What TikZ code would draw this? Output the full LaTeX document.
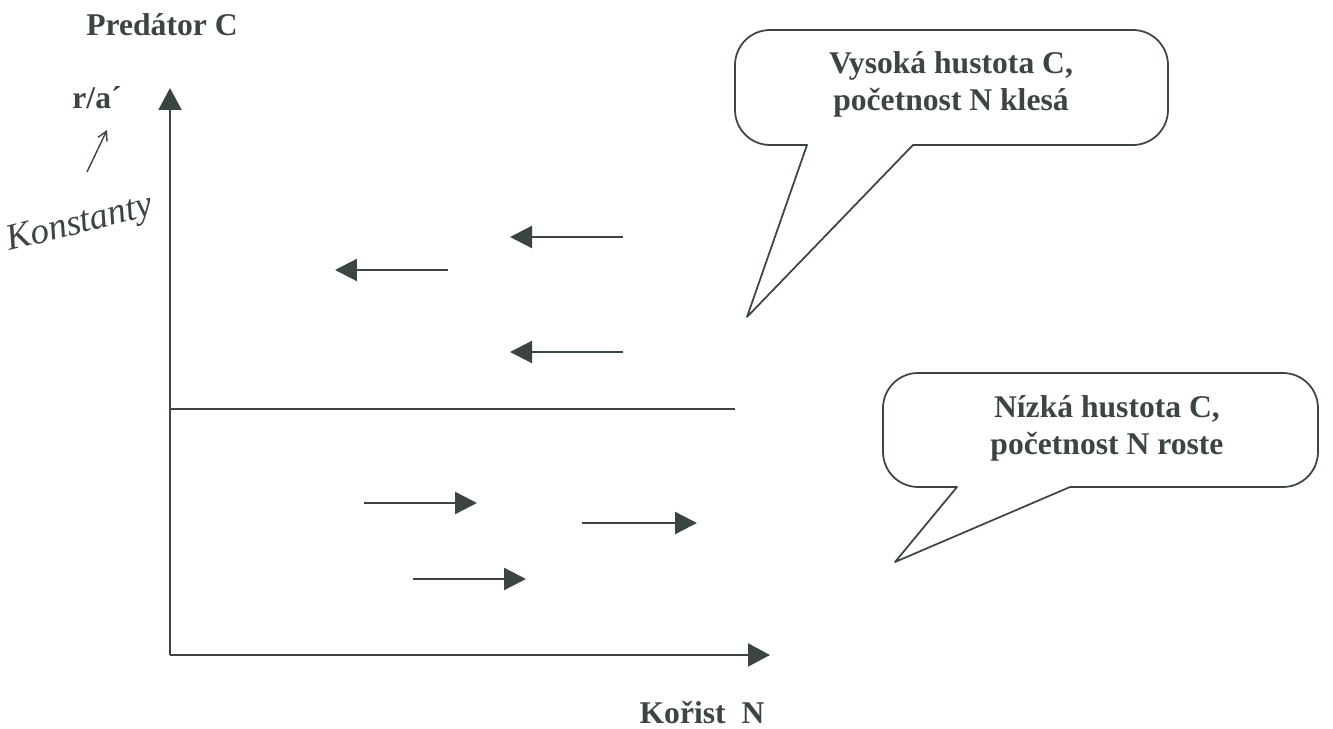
\documentclass[tikz,border=0pt]{standalone}
\usepackage{fontspec}
\setmainfont{Liberation Serif}
\usetikzlibrary{arrows.meta}
\definecolor{ink}{HTML}{3B4642}

\begin{document}
\begin{tikzpicture}[
    x=0.02cm, y=-0.02cm,
    % Styles for axes, flow arrows, callouts and labels
    axis/.style={draw=ink, line width=1.3pt, -{Triangle[length=0.44cm, width=0.46cm]}},
    flow/.style={draw=ink, line width=1.3pt, -{Triangle[length=0.44cm, width=0.44cm]}},
    callout/.style={draw=ink, line width=1pt, line join=round},
    lbl/.style={text=ink, font=\fontsize{18}{21}\selectfont\bfseries, align=center, inner sep=0pt},
    hand/.style={text=ink, font=\fontsize{21}{24}\selectfont\itshape, inner sep=0pt}
]
  \useasboundingbox (0,0) rectangle (1333,729);

  % --- AXES ---
  \coordinate (origin) at (170,655);
  \coordinate (ytip) at (170,88);
  \coordinate (xtip) at (770,655);
  \draw[axis] (origin) -- (ytip);
  \draw[axis] (origin) -- (xtip);

  % --- AXIS LABELS ---
  \node[lbl] (pred) at (162,25) {Predátor C};
  \node[lbl] (ra) at (97,98) {r/a´};
  \node[lbl] (prey) at (702,713) {Kořist\ \ N};

  % handwritten note
  \node[hand, rotate=14] (konst) at (80,225) {Konstanty};
  \coordinate (hs) at (87,172);
  \coordinate (he) at (107,130);
  \draw[ink, line width=0.8pt, -{Straight Barb[length=0.18cm, width=0.2cm]}] (hs) -- (he);

  % --- ISOCLINE ---
  \coordinate (iso1) at (170,409);
  \coordinate (iso2) at (735,409);
  \draw[ink, line width=1.2pt] (iso1) -- (iso2);

  % --- FLOW ARROWS ---
  % above the isocline: prey declines
  \foreach \xa/\xb/\yy in {623/510/237, 448/335/270, 623/510/352}
    \draw[flow] (\xa,\yy) -- (\xb,\yy);
  % below the isocline: prey grows
  \foreach \xa/\xb/\yy in {364/477/503, 582/697/523, 413/526/579}
    \draw[flow] (\xa,\yy) -- (\xb,\yy);

  % --- CALLOUTS ---
  \draw[callout] (913,145) [rounded corners=20] -- (1168,145) -- (1168,30) -- (735,30) -- (735,145) [sharp corners] -- (807,145) -- (747,317) -- cycle;
  \node[lbl] (high) at (951,84) {Vysoká hustota C,\\početnost N klesá};

  \draw[callout] (1070,487) [rounded corners=20] -- (1318,487) -- (1318,373) -- (883,373) -- (883,487) [sharp corners] -- (957,487) -- (895,562) -- cycle;
  \node[lbl] (low) at (1107,428) {Nízká hustota C,\\početnost N roste};

\end{tikzpicture}
\end{document}
